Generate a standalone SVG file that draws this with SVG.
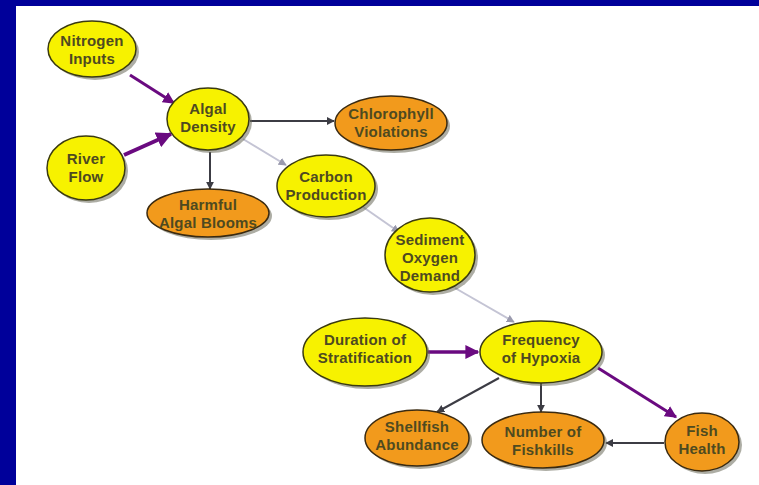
<svg xmlns="http://www.w3.org/2000/svg" width="759" height="485" viewBox="0 0 759 485">
<defs>
<style>
.y{fill:#f7f200;stroke:#3a3a10;stroke-width:1.5}
.o{fill:#f29a1c;stroke:#3a2a10;stroke-width:1.5}
.sh{fill:#6a6a5a;opacity:0.55}
text{font-family:"Liberation Sans",Arial,sans-serif;font-weight:bold;font-size:15px;fill:#4e4a20;text-anchor:middle;letter-spacing:0.2px}
.p{stroke:#6a0a80;fill:none}
.d{stroke:#3c3c44;stroke-width:2;fill:none}
.l{stroke:#c4c4d4;stroke-width:2;fill:none}
</style>
<marker id="mp" viewBox="0 0 10 10" refX="9" refY="5" markerWidth="4" markerHeight="4" orient="auto" markerUnits="strokeWidth"><path d="M0,0L10,5L0,10z" fill="#6a0a80"/></marker>
<marker id="md" viewBox="0 0 10 10" refX="9" refY="5" markerWidth="4" markerHeight="4" orient="auto" markerUnits="strokeWidth"><path d="M0,0L10,5L0,10z" fill="#3c3c44"/></marker>
<marker id="ml" viewBox="0 0 10 10" refX="9" refY="5" markerWidth="4" markerHeight="4" orient="auto" markerUnits="strokeWidth"><path d="M0,0L10,5L0,10z" fill="#9a9aae"/></marker>
</defs>
<rect x="0" y="0" width="759" height="485" fill="#ffffff"/>
<rect x="0" y="0" width="759" height="6" fill="#00009a"/>
<rect x="0" y="0" width="16" height="485" fill="#00009a"/>
<g id="connectors">
<line class="p" x1="130" y1="75" x2="174" y2="103" stroke-width="3" marker-end="url(#mp)"/>
<line class="p" x1="124" y1="155" x2="171" y2="134" stroke-width="4" marker-end="url(#mp)"/>
<line class="d" x1="250" y1="121" x2="334" y2="121" marker-end="url(#md)"/>
<line class="d" x1="210" y1="152" x2="210" y2="189" marker-end="url(#md)"/>
<line class="l" x1="243" y1="139" x2="286" y2="165" marker-end="url(#ml)"/>
<line class="l" x1="363" y1="207" x2="399" y2="232" marker-end="url(#ml)"/>
<line class="l" x1="455" y1="288" x2="514" y2="322" marker-end="url(#ml)"/>
<line class="p" x1="428" y1="352" x2="478" y2="352" stroke-width="3.5" marker-end="url(#mp)"/>
<line class="d" x1="499" y1="378" x2="437" y2="412" marker-end="url(#md)"/>
<line class="d" x1="541" y1="383" x2="541" y2="412" marker-end="url(#md)"/>
<line class="p" x1="598" y1="368" x2="676" y2="417" stroke-width="3" marker-end="url(#mp)"/>
<line class="d" x1="664" y1="443" x2="606" y2="443" marker-end="url(#md)"/>
</g>
<g id="nitrogen"><ellipse class="sh" cx="95" cy="52" rx="44" ry="28"/><ellipse class="y" cx="92" cy="49" rx="44" ry="28"/><text x="92" y="46">Nitrogen</text><text x="92" y="64">Inputs</text></g>
<g id="algal"><ellipse class="sh" cx="211" cy="122" rx="41" ry="31"/><ellipse class="y" cx="208" cy="119" rx="41" ry="31"/><text x="208" y="114">Algal</text><text x="208" y="132">Density</text></g>
<g id="river"><ellipse class="sh" cx="89" cy="171" rx="39" ry="32"/><ellipse class="y" cx="86" cy="168" rx="39" ry="32"/><text x="86" y="164">River</text><text x="86" y="182">Flow</text></g>
<g id="harmful"><ellipse class="sh" cx="211" cy="216" rx="61" ry="24"/><ellipse class="o" cx="208" cy="213" rx="61" ry="24"/><text x="208" y="210">Harmful</text><text x="208" y="228">Algal Blooms</text></g>
<g id="chlorophyll"><ellipse class="sh" cx="394" cy="126" rx="56" ry="27"/><ellipse class="o" cx="391" cy="123" rx="56" ry="27"/><text x="391" y="119">Chlorophyll</text><text x="391" y="137">Violations</text></g>
<g id="carbon"><ellipse class="sh" cx="329" cy="189" rx="49" ry="31"/><ellipse class="y" cx="326" cy="186" rx="49" ry="31"/><text x="326" y="182">Carbon</text><text x="326" y="200">Production</text></g>
<g id="sediment"><ellipse class="sh" cx="433" cy="258" rx="45" ry="37"/><ellipse class="y" cx="430" cy="255" rx="45" ry="37"/><text x="430" y="245">Sediment</text><text x="430" y="263">Oxygen</text><text x="430" y="281">Demand</text></g>
<g id="duration"><ellipse class="sh" cx="368" cy="355" rx="62" ry="34"/><ellipse class="y" cx="365" cy="352" rx="62" ry="34"/><text x="365" y="345">Duration of</text><text x="365" y="363">Stratification</text></g>
<g id="hypoxia"><ellipse class="sh" cx="544" cy="355" rx="61" ry="31"/><ellipse class="y" cx="541" cy="352" rx="61" ry="31"/><text x="541" y="345">Frequency</text><text x="541" y="363">of Hypoxia</text></g>
<g id="shellfish"><ellipse class="sh" cx="420" cy="441" rx="52" ry="28"/><ellipse class="o" cx="417" cy="438" rx="52" ry="28"/><text x="417" y="432">Shellfish</text><text x="417" y="450">Abundance</text></g>
<g id="fishkills"><ellipse class="sh" cx="546" cy="443" rx="61" ry="28"/><ellipse class="o" cx="543" cy="440" rx="61" ry="28"/><text x="543" y="437">Number of</text><text x="543" y="455">Fishkills</text></g>
<g id="fishhealth"><ellipse class="sh" cx="705" cy="445" rx="37" ry="29"/><ellipse class="o" cx="702" cy="442" rx="37" ry="29"/><text x="702" y="436">Fish</text><text x="702" y="454">Health</text></g>
</svg>
